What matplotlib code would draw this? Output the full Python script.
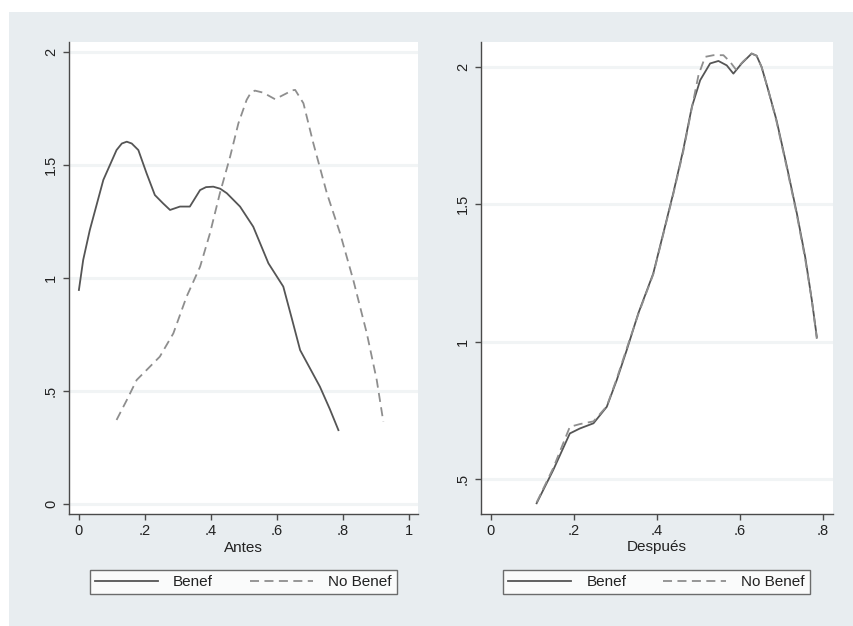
import matplotlib
matplotlib.use("Agg")
import matplotlib.pyplot as plt
from matplotlib.patches import Rectangle
from matplotlib.lines import Line2D

plt.rcParams['font.family'] = ['Liberation Sans', 'DejaVu Sans']

# ---- Data: Antes (left panel) ----
antes_benef_x = [0, 0.013, 0.033, 0.074, 0.114, 0.13, 0.145, 0.16, 0.18, 0.205, 0.23, 0.255,
                 0.276, 0.306, 0.336, 0.367, 0.385, 0.407, 0.428, 0.448, 0.488, 0.528, 0.574,
                 0.619, 0.645, 0.67, 0.70, 0.73, 0.76, 0.786]
antes_benef_y = [0.947, 1.08, 1.212, 1.434, 1.566, 1.595, 1.603, 1.595, 1.566, 1.463, 1.367,
                 1.33, 1.301, 1.316, 1.316, 1.389, 1.402, 1.404, 1.395, 1.375, 1.316, 1.227,
                 1.065, 0.962, 0.82, 0.681, 0.60, 0.519, 0.42, 0.327]
antes_nobenef_x = [0.114, 0.145, 0.175, 0.205, 0.245, 0.286, 0.326, 0.367, 0.397, 0.427,
                   0.458, 0.483, 0.508, 0.52, 0.533, 0.558, 0.594, 0.629, 0.645, 0.655, 0.68,
                   0.71, 0.751, 0.791, 0.831, 0.872, 0.902, 0.922]
antes_nobenef_y = [0.372, 0.46, 0.549, 0.593, 0.652, 0.755, 0.917, 1.05, 1.198, 1.375,
                   1.537, 1.684, 1.788, 1.818, 1.829, 1.82, 1.791, 1.817, 1.83, 1.832, 1.773,
                   1.596, 1.375, 1.198, 0.991, 0.755, 0.549, 0.364]

# ---- Data: Después (right panel) ----
desp_benef_x = [0.11, 0.15, 0.19, 0.214, 0.247, 0.279, 0.303, 0.327, 0.355, 0.391, 0.415,
                0.439, 0.463, 0.484, 0.504, 0.528, 0.548, 0.568, 0.584, 0.604, 0.628,
                0.64, 0.652, 0.668, 0.688, 0.713, 0.737, 0.757, 0.773, 0.785]
desp_benef_y = [0.412, 0.533, 0.666, 0.684, 0.703, 0.763, 0.86, 0.969, 1.103, 1.248, 1.393,
                1.539, 1.696, 1.854, 1.951, 2.012, 2.021, 2.005, 1.975, 2.012, 2.048,
                2.04, 1.999, 1.915, 1.805, 1.636, 1.466, 1.308, 1.151, 1.017]
desp_nobenef_x = [0.11, 0.15, 0.19, 0.214, 0.247, 0.279, 0.303, 0.327, 0.355, 0.391, 0.415,
                  0.439, 0.463, 0.484, 0.50, 0.516, 0.536, 0.56, 0.576, 0.59, 0.608,
                  0.628, 0.64, 0.652, 0.668, 0.688, 0.713, 0.737, 0.757, 0.773, 0.785]
desp_nobenef_y = [0.415, 0.54, 0.69, 0.70, 0.71, 0.765, 0.865, 0.975, 1.10, 1.245, 1.39,
                  1.535, 1.69, 1.85, 1.97, 2.036, 2.042, 2.042, 2.018, 1.99, 2.02,
                  2.048, 2.04, 1.999, 1.915, 1.80, 1.63, 1.46, 1.30, 1.15, 1.01]

left_xticks = [0, 0.2, 0.4, 0.6, 0.8, 1.0]
left_xticklabels = ["0", ".2", ".4", ".6", ".8", "1"]
left_yticks = [0, 0.5, 1, 1.5, 2]
left_yticklabels = ["0", ".5", "1", "1.5", "2"]
right_xticks = [0, 0.2, 0.4, 0.6, 0.8]
right_xticklabels = ["0", ".2", ".4", ".6", ".8"]
right_yticks = [0.5, 1, 1.5, 2]
right_yticklabels = [".5", "1", "1.5", "2"]
series_labels = ["Benef", "No Benef"]

W, H = 854, 626
fig = plt.figure(figsize=(W / 100, H / 100), dpi=100, facecolor="white")
bg = "#e8edf0"
fig.patches.append(Rectangle((9 / W, 0), 1 - 9 / W, 1 - 12 / H, transform=fig.transFigure,
                             facecolor=bg, edgecolor="none", zorder=-10))

solid_c = "#555555"
dash_c = "#8e8e8e"
spine_c = "#4a4a4a"
text_c = "#222222"


def px_axes(l, r, t, b):
    return fig.add_axes([l / W, 1 - b / H, (r - l) / W, (b - t) / H])


def style(ax, xticks, xlabels, yticks, ylabels, xlim, ylim, xlabel):
    ax.set_facecolor("white")
    ax.set_xlim(*xlim)
    ax.set_ylim(*ylim)
    for s in ["top", "right"]:
        ax.spines[s].set_visible(False)
    for s in ["left", "bottom"]:
        ax.spines[s].set_color(spine_c)
        ax.spines[s].set_linewidth(1.0)
    ax.set_xticks(xticks)
    ax.set_xticklabels(xlabels, fontsize=10.5, color=text_c)
    ax.set_yticks(yticks)
    ax.set_yticklabels(ylabels, fontsize=10.5, color=text_c, rotation=90, va="center")
    ax.tick_params(axis="both", length=4, width=1, color=spine_c, direction="out")
    ax.tick_params(axis="x", pad=3)
    ax.tick_params(axis="y", pad=4)
    ax.yaxis.grid(True, color="#f1f4f5", linewidth=2.2)
    ax.set_axisbelow(True)
    ax.set_xlabel(xlabel, fontsize=11, color=text_c, labelpad=2)


def add_legend(ax, x0, x1):
    handles = [Line2D([], [], color=solid_c, lw=1.3),
               Line2D([], [], color=dash_c, lw=1.3, linestyle=(0, (5, 3)))]
    leg = ax.legend(handles, series_labels, loc="center", ncol=2, mode="expand",
                    bbox_to_anchor=(x0, -0.178, x1 - x0, 0.068), frameon=True,
                    fancybox=False, edgecolor=spine_c, handlelength=4.1, fontsize=11,
                    borderaxespad=0, columnspacing=2.5, handletextpad=1.0,
                    borderpad=0.35)
    leg.get_frame().set_linewidth(1.0)
    for t in leg.get_texts():
        t.set_color(text_c)


# Left panel
axL = px_axes(69, 418, 42, 514)
axL.plot(antes_benef_x, antes_benef_y, color=solid_c, lw=1.3, solid_joinstyle="round")
axL.plot(antes_nobenef_x, antes_nobenef_y, color=dash_c, lw=1.3, linestyle=(0, (5, 3)))
style(axL, left_xticks, left_xticklabels, left_yticks, left_yticklabels,
      (-0.03, 1.027), (-0.044, 2.044), "Antes")
add_legend(axL, 0.06, 0.94)

# Right panel
axR = px_axes(481, 833, 42, 514)
axR.plot(desp_benef_x, desp_benef_y, color=solid_c, lw=1.3, solid_joinstyle="round")
axR.plot(desp_nobenef_x, desp_nobenef_y, color=dash_c, lw=1.3, linestyle=(0, (5, 3)))
style(axR, right_xticks, right_xticklabels, right_yticks, right_yticklabels,
      (-0.024, 0.824), (0.373, 2.09), "Después")
add_legend(axR, 0.0625, 0.935)

fig.savefig("out.png", dpi=100, facecolor=fig.get_facecolor())
